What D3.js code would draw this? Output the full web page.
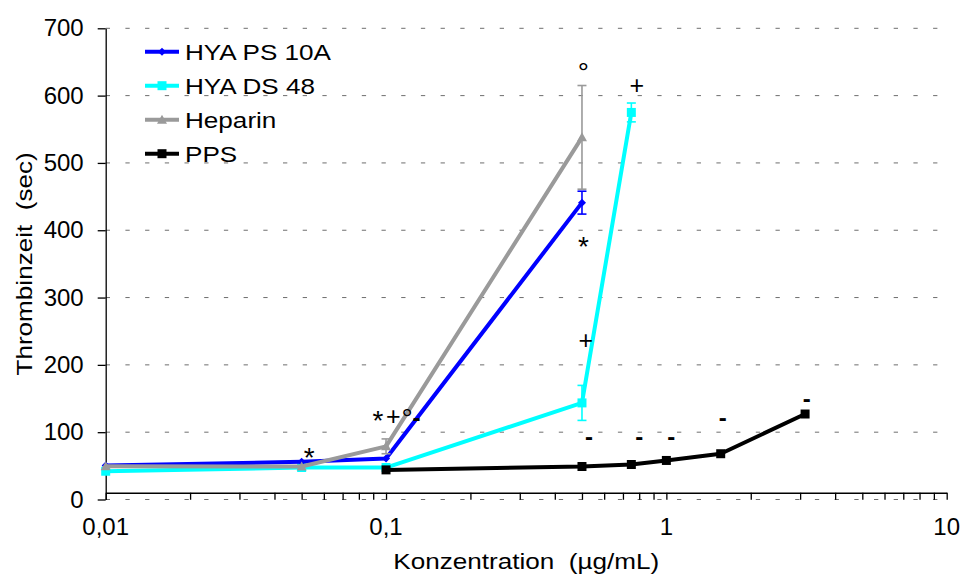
<!DOCTYPE html>
<html>
<head>
<meta charset="utf-8">
<script src="https://cdn.jsdelivr.net/npm/d3@7"></script>
<style>
  body { margin: 0; background: #fff; }
  svg text { font-family: "Liberation Sans", Arial, Helvetica, sans-serif; fill: #000; white-space: pre; }
</style>
</head>
<body>
<svg id="chart" width="961" height="577"></svg>
<script>
// Thrombin time vs. concentration (log scale), four substances
const seriesNames = ["HYA PS 10A", "HYA DS 48", "Heparin", "PPS"];

const hyaPsConc = [0.01, 0.05, 0.1, 0.5];
const hyaPsTime = [50.5, 56, 61, 441];
const hyaPsErr  = [0, 0, 0, 17];

const hyaDsConc = [0.01, 0.05, 0.1, 0.5, 0.75];
const hyaDsTime = [42, 47.5, 47.5, 143.5, 575];
const hyaDsErr  = [0, 0, 0, 26, 14];

const heparinConc = [0.01, 0.05, 0.1, 0.5];
const heparinTime = [49.5, 49, 79, 538];
const heparinErr  = [0, 0, 11, 77];

const ppsConc = [0.1, 0.5, 0.75, 1, 1.5625, 3.125];
const ppsTime = [44, 49, 52, 58, 68, 127];
const ppsErr  = [0, 0, 0, 0, 0, 0];

const xTickValues = [0.01, 0.1, 1, 10];
const xTickLabels = ["0,01", "0,1", "1", "10"];
const yTickValues = [0, 100, 200, 300, 400, 500, 600, 700];
const xAxisCrossesAt = 10;

// significance marks (glyph centre in data units)
const markSymbols = ["*", "*", "+", "°", "-", "°", "+", "*", "+", "-", "-", "-", "-", "-"];
const markConc    = [0.0532, 0.0935, 0.1062, 0.1188, 0.1285, 0.506, 0.784, 0.506, 0.516, 0.53, 0.801, 1.04, 1.589, 3.17];
const markTime    = [72.5, 128, 123, 130.4, 119, 644, 615.6, 385.4, 237, 91, 91, 91, 118.7, 146.7];

const W = 961, H = 577;
const margin = { left: 105.7, right: 14.3, top: 28.3, bottom: 77.5 };
const textStretch = 1.16;   // wide set for titles and legend

const svg = d3.select("#chart");
const x = d3.scaleLog().domain([0.01, 10]).range([margin.left, W - margin.right]);
const y = d3.scaleLinear().domain([0, 700]).range([H - margin.bottom, margin.top]);

// dashed horizontal gridlines
svg.append("g").selectAll("line").data(yTickValues).join("line")
  .attr("x1", x(0.01)).attr("x2", x(10))
  .attr("y1", d => y(d)).attr("y2", d => y(d))
  .attr("stroke", "#6e6e6e").attr("stroke-width", 1)
  .attr("stroke-dasharray", "4.3 15.4");

// y axis
const yAxis = svg.append("g").attr("transform", `translate(${x(0.01)},0)`)
  .call(d3.axisLeft(y).tickValues(yTickValues).tickSize(8).tickSizeOuter(0).tickPadding(14)
    .tickFormat(d3.format("d")));
yAxis.select(".domain").attr("stroke", "#000").attr("stroke-width", 1.3);
yAxis.selectAll(".tick line").attr("stroke", "#000").attr("stroke-width", 1.3);
yAxis.selectAll(".tick text").attr("font-size", 24).attr("font-family", null).attr("fill", "#000");

// x axis (log, with minor ticks)
const minorTicks = [];
for (let e = -2; e <= 0; e++) for (let m = 1; m <= 9; m++) minorTicks.push(m * Math.pow(10, e));
minorTicks.push(10);
const xAxis = svg.append("g").attr("transform", `translate(0,${y(xAxisCrossesAt)})`)
  .call(d3.axisBottom(x).tickValues(minorTicks).tickSize(7).tickSizeOuter(0).tickFormat(""));
xAxis.select(".domain").attr("stroke", "#000").attr("stroke-width", 1.3);
xAxis.selectAll(".tick line").attr("stroke", "#000").attr("stroke-width", 1.3);

svg.append("g").selectAll("text").data(xTickValues).join("text")
  .attr("x", d => x(d)).attr("y", 535)
  .attr("text-anchor", "middle").attr("font-size", 24)
  .text((d, i) => xTickLabels[i]);

// axis titles
svg.append("text")
  .attr("transform", `translate(${(x(0.01) + x(10)) / 2},569) scale(${textStretch},1)`)
  .attr("text-anchor", "middle").attr("font-size", 22.5)
  .text("Konzentration  (µg/mL)");
svg.append("text")
  .attr("transform", `translate(32,${(y(0) + y(700)) / 2}) rotate(-90) scale(${textStretch},1)`)
  .attr("text-anchor", "middle").attr("font-size", 22.5)
  .text("Thrombinzeit  (sec)");

// series
const series = [
  { name: seriesNames[1], conc: hyaDsConc, time: hyaDsTime, err: hyaDsErr, color: "#00ffff", marker: "square", size: 9 },
  { name: seriesNames[0], conc: hyaPsConc, time: hyaPsTime, err: hyaPsErr, color: "#0000ff", marker: "diamond", size: 8 },
  { name: seriesNames[2], conc: heparinConc, time: heparinTime, err: heparinErr, color: "#9a9a9a", marker: "triangle", size: 10 },
  { name: seriesNames[3], conc: ppsConc, time: ppsTime, err: ppsErr, color: "#000000", marker: "square", size: 9 }
];

function markerPath(type, s) {
  const h = s / 2;
  if (type === "square") return `M${-h},${-h}H${h}V${h}H${-h}Z`;
  if (type === "diamond") return `M0,${-h}L${h},0L0,${h}L${-h},0Z`;
  if (type === "triangle") return `M0,${-h}L${h},${h * 0.8}L${-h},${h * 0.8}Z`;
  return "";
}

const line = d3.line().x(d => x(d.c)).y(d => y(d.t));

series.forEach(s => {
  const pts = s.conc.map((c, i) => ({ c, t: s.time[i], e: s.err[i] }));
  const g = svg.append("g");
  // error bars
  pts.filter(p => p.e > 0).forEach(p => {
    const eb = g.append("g").attr("stroke", s.color).attr("stroke-width", 1.6);
    eb.append("line").attr("x1", x(p.c)).attr("x2", x(p.c)).attr("y1", y(p.t - p.e)).attr("y2", y(p.t + p.e));
    [p.t - p.e, p.t + p.e].forEach(v => eb.append("line")
      .attr("x1", x(p.c) - 4.5).attr("x2", x(p.c) + 4.5).attr("y1", y(v)).attr("y2", y(v)));
  });
  g.append("path").datum(pts).attr("d", line)
    .attr("fill", "none").attr("stroke", s.color).attr("stroke-width", 4)
    .attr("stroke-linejoin", "round");
  g.selectAll("path.m").data(pts).join("path").attr("class", "m")
    .attr("transform", p => `translate(${x(p.c)},${y(p.t)})`)
    .attr("d", markerPath(s.marker, s.size)).attr("fill", s.color);
});

// significance marks
const glyphLift = { "*": 0.58, "+": 0.35, "°": 0.58, "-": 0.27 };
const glyphFill = { "*": "#111", "+": "#555", "°": "#111", "-": "#000" };
const glyphSize = { "*": 28, "+": 25, "°": 28, "-": 24 };
svg.append("g").selectAll("text").data(markSymbols).join("text")
  .attr("x", (d, i) => x(markConc[i]))
  .attr("y", (d, i) => y(markTime[i]))
  .attr("dy", d => `${glyphLift[d]}em`)
  .attr("text-anchor", "middle")
  .attr("font-size", d => glyphSize[d])
  .attr("font-weight", d => d === "-" ? "bold" : "normal")
  .attr("fill", d => glyphFill[d])
  .text(d => d);

// legend
const legendOrder = [
  { name: seriesNames[0], color: "#0000ff", marker: "diamond", size: 8 },
  { name: seriesNames[1], color: "#00ffff", marker: "square", size: 9 },
  { name: seriesNames[2], color: "#9a9a9a", marker: "triangle", size: 10 },
  { name: seriesNames[3], color: "#000000", marker: "square", size: 9 }
];
const lg = svg.append("g").selectAll("g").data(legendOrder).join("g")
  .attr("transform", (d, i) => `translate(145,${51.7 + i * 34})`);
lg.append("line").attr("x1", 0).attr("x2", 34).attr("stroke", d => d.color).attr("stroke-width", 4);
lg.append("path").attr("transform", "translate(17,0)").attr("d", d => markerPath(d.marker, d.size)).attr("fill", d => d.color);
lg.append("text").attr("transform", `translate(40,0) scale(${textStretch},1)`)
  .attr("dy", "0.36em").attr("font-size", 22.5).text(d => d.name);
</script>
</body>
</html>
